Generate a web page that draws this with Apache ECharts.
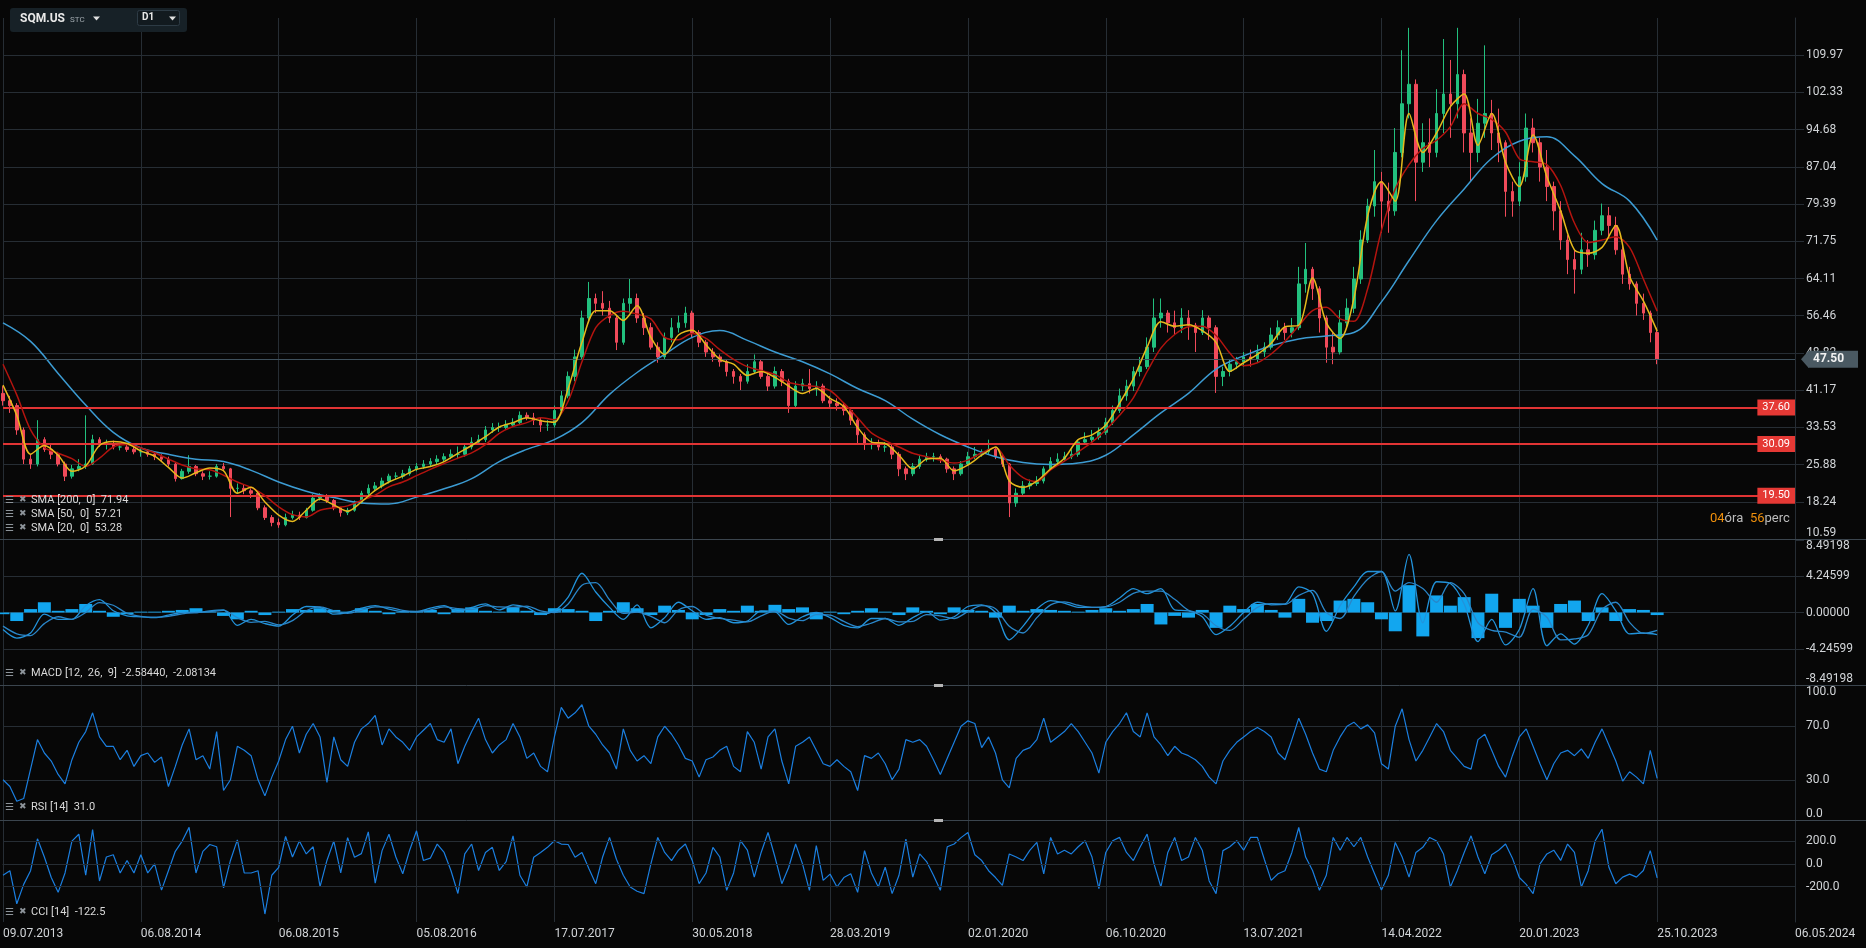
<!DOCTYPE html>
<html><head><meta charset="utf-8">
<script src="https://cdn.jsdelivr.net/npm/echarts@6/dist/echarts.min.js"></script>
<style>html,body{margin:0;padding:0;background:#070707;}#c{width:1866px;height:948px;}</style>
</head><body><div id="c"></div>
<script>
// ---------- data ----------
const dateLabels = ['09.07.2013','06.08.2014','06.08.2015','05.08.2016','17.07.2017','30.05.2018','28.03.2019','02.01.2020','06.10.2020','13.07.2021','14.04.2022','20.01.2023','25.10.2023','06.05.2024'];

const opens = [40.5,39,38,33,27,26,31,29,28,26,
23.5,25,25.5,26,31,30,30,29.5,29.5,29,
28.5,28.5,28,27.5,27,26,23,24.5,25.5,24,
23.5,23.5,25.5,25,21,21,20.5,20,17,15,
14,13.5,15,15.5,15,16.5,19,19.5,18.5,17,
16,16.5,18,20,21,21.5,22.5,23.5,23.5,24,
25,25.5,26,26.5,27,27.5,28,28,29.5,30.5,
31,33,33.5,33.5,34,34.5,36,35.5,35,34,
34,37,40,44,48,56,60,59,58,56,
51,59,60,56,54,50,48,52,54,55,
57,53,51,49,48,47,45,44,43,45,
47,44,42,45,43,38,42,42.5,41.5,42,
39,38.5,38,37,35,32,30,30,29.5,29.5,
28,25,24,25.5,27,27.5,27.5,27,25,24,
26,27.5,28,28.5,29,27.5,26,18,20,21.5,
22,22.5,25,26.5,27,27.5,28,30.5,31,31.5,
32.5,34.5,37,40,42,45,46,50,56,57,
55,54,56,54.5,53,56,54,44,45,46.5,
47,48,47.5,49,50,52.5,54,53,54,63,
66,62,56,50,49,55,58,64,72,79,
84,80,78,90,100,104,88,92,90,98,
102,100,106,94,90,96,98,94,92,82,
80,85,95,92,87,83,78,72,68,66,
70,69,74,77,75,70,65,63,59,57,
53];
const closes = [39,38,33,27,26,31,29,28,26,23.5,
25,25.5,26,31,30,30,29.5,29.5,29,28.5,
28.5,28,27.5,27,26,23,24.5,25.5,24,23.5,
23.5,25.5,25,21,21,20.5,20,17,15,14,
13.5,15,15.5,15,16.5,19,19.5,18.5,17,16,
16.5,18,20,21,21.5,22.5,23.5,23.5,24,25,
25.5,26,26.5,27,27.5,28,28,29.5,30.5,31,
33,33.5,33.5,34,34.5,36,35.5,35,34,34,
37,40,44,48,56,60,59,58,56,51,
59,60,56,54,50,48,52,54,55,57,
53,51,49,48,47,45,44,43,45,47,
44,42,45,43,38,42,42.5,41.5,42,39,
38.5,38,37,35,32,30,30,29.5,29.5,28,
25,24,25.5,27,27.5,27.5,27,25,24,26,
27.5,28,28.5,29,27.5,26,18,20,21.5,22,
22.5,25,26.5,27,27.5,28,30.5,31,31.5,32.5,
34.5,37,40,42,45,46,50,56,57,55,
54,56,54.5,53,56,54,44,45,46.5,47,
48,47.5,49,50,52.5,54,53,54,63,66,
62,56,50,49,55,58,64,72,79,84,
80,78,90,100,104,88,92,90,98,102,
100,106,94,90,96,98,94,92,82,80,
85,95,92,87,83,78,72,68,66,70,
69,74,77,75,70,65,63,59,57,53,
47.5];
const lows = [38,36.5,32,26,25,25.5,28.5,27,25.5,22.5,
23,24.5,25,25.8,29.5,29,29,28.8,28.5,28,
27.5,27.5,26.8,26.5,25.5,22.4,22.8,24,23.5,22.7,
22.8,23.2,24.5,15.1,20,19.8,19,16.5,14.5,13.2,
12.9,13.2,14.6,14.5,14.8,16.2,18.5,18,16.5,15.2,
15.5,16.2,17.8,19.5,20.5,21,22,22.8,23,23.6,
24.5,25,25.5,26,26.4,27,27,27.5,29,30,
30.5,32.4,32.6,33,33.6,34,35,34,32.6,32.8,
33.5,36.5,39.5,43,47.5,55,57,56.5,55,49.4,
50.5,57,55,52.5,49.5,46.8,47.5,51,53,54,
52,50,48,47,46,44,42.5,41.2,42.5,44.5,
43.5,41,41.5,42,36.5,37.5,41,40.5,40,38.5,
37.5,37,36,34,30,28.9,29,28.8,28.5,27,
23.5,22.7,23.5,25,26.5,26.5,26.2,24.2,22.7,23.6,
25.8,27,27.5,28,27,25.4,15.1,17.2,19.5,20.8,
21.5,22,24.8,26,26.6,27,27.5,30,30.5,31,
32,34,36.5,39,41,44,45.5,49,54,53,
52.5,52.9,51.5,49,52.5,51.5,40.6,42,44,45.5,
46,46,46.8,48,49.5,51.5,51.5,52,53.5,61.2,
59.7,53,46.8,46.5,48.5,54,57,63,71.4,76.8,
73.5,73.5,77,89,97,80,86,87,89,94,
93,97,90,84,88,93,90.5,88,76.8,76.8,
79,84,90,84,80,74,70,65,61,65,
66.5,68,73,72.5,69,63,61.8,56.5,55.6,51,
46.5];
const highs = [42,40,38.5,33.5,28,35,31.5,30,28.5,26.5,
25.8,27,36,32,31.5,31,30.8,30.2,30,29.5,
29.2,29,28.5,28,27.5,26.2,25,27.8,25.8,24.5,
24.5,26,26.2,25.2,22,21.8,21,20.2,17.5,15.5,
14.8,15.8,16.4,16.2,17,19.8,20,19.8,18.8,17.2,
17,18.5,20.5,21.8,22.3,23.2,24,24.3,24.8,25.6,
26.2,26.8,27.2,27.8,28.2,29,29.6,30.2,31.5,32,
33.8,34.4,34.5,35,35.4,36.8,36.6,36.5,35.5,35,
38,41,45,49.5,57.5,63.4,61,61.5,59.5,56.5,
60,64,61,57,55,51,53,56,56.5,58.3,
57.5,53.5,51.5,49.8,48.5,47.4,45.5,44.5,46.5,48.5,
47.4,44.5,46,45.5,43.5,43,43.5,45.5,43,42.5,
40,39.5,38.5,37.5,35.5,32.5,31.3,31,30.5,30,
28.5,25.5,26.2,27.8,28.3,28.3,28,27.3,25.5,26.6,
28.5,29.5,29,31,29.5,28,26.2,21,22.5,22.8,
23.5,25.5,27.4,28.2,28.5,29,31,32.5,33,33.5,
35.5,38,41.5,43.3,46,48,52,60,60,57.6,
57.5,58,57.6,55,57.6,56.5,54.5,46,47.4,48,
49,49.5,50.5,51,54,55.5,55,56,66.5,71.4,
66.5,62.5,56.5,53,57.6,60,66.5,74,80.5,90.5,
86,83.8,95,111,115.6,105,96,97,103,113.3,
109,115.6,107,97,101,112,100.8,99,92.5,84,
88,98,97,93,90.5,84,80,73,70,73.5,
72,76,79.5,78.8,76.8,71,66.5,63.5,61,57.5,
54];

// moving averages: sma20 / sma50 sampled every 2nd bar, sma200 every 4th bar
const sma20 = [42.2,36,28,29.8,27.8,24.5,25.6,29.8,30.6,30.2,
28.7,27.6,25.3,23.1,24.2,25.2,24.6,20,21.2,18.2,
15.5,14.2,16.5,18.8,17.6,16.3,18.2,20.6,22.3,23.5,
24.9,25.5,26.5,28.2,29.8,31.6,33.6,34.5,35.5,34.9,
34.6,41.5,51,57.5,57.5,55.5,58.5,52,48.5,52.5,
53.5,50.5,47.5,46.5,44.2,45,43.8,42,40.5,41.5,
39.5,37.8,33.5,30.5,30.2,27.8,25,27,27.2,24.6,
25.8,27.8,29.5,22.5,21.2,22.5,25,27.2,31,32,
34,38.5,43.5,50,55.2,54.3,54.6,53.4,51,45,
46.8,48.5,50.8,54.2,54.5,64.2,55,51.8,60,77,
84,80,98,90,94,99.4,102,91.5,98,88,
83,93.6,85,78,70,69.3,70.5,75,64.5,59.5,
53.3];
const sma50 = [46.5,40.2,33,29.4,28.2,27.1,25.5,27.2,29.5,30,
29.3,28.3,27,25.8,25,24.8,23.7,22.3,21.2,19.5,
17.2,15.6,15.1,16.5,17,17.4,18.5,19.6,21.3,22.3,
23.6,24.9,26.1,27.2,28.3,30,32.3,33.7,34.5,35.5,
35.1,38.9,47,54,56.5,57.4,56.8,55.8,52,51.5,
52.8,51.8,49.5,47.5,46,45.2,44.4,42.8,42.2,41.9,
41.1,38.5,35.5,32.4,30.8,29.5,28.2,27.5,26.8,26.2,
26.8,28.3,29.4,25.8,23.2,22.4,24.8,26.6,28.5,30.5,
33,36,39.6,45,49.8,52.6,54.2,54.3,52.4,48.8,
46.2,46.8,48.6,51.2,54.4,57.5,58.2,55.8,55.3,62,
74,82.5,87.5,90.8,92.5,95.3,100,98,96.8,94.2,
88.7,88.1,87.5,83.2,75.5,71.5,72,72.7,70.5,64,
57.4];
const sma200 = [55,51.2,44.6,38.1,32.5,29.3,28,27,26.5,24.7,
22.3,20.4,19.1,18,17.8,19.2,20.9,23,26.5,29,
31,34.5,40.3,44.8,48.5,52,53.4,51.4,49,47,
44.5,41.5,39,35.2,32,29.5,27.5,26.3,25.9,26.2,
27.8,32,36.5,40.5,45.5,48.2,50.3,51.7,52.3,53,
59.3,67.8,76,82.5,88.8,92.3,93.2,89.3,83.6,80,
72];

// MACD (sampled every 2nd bar)
const macdLine = [-2.0,-3.0,-2.4,-0.2,-0.8,-0.8,0.8,1.5,0.2,-0.4,
-0.5,-0.6,-0.3,0,0,0.2,0.3,-1.5,-0.8,-1.3,
-1.6,-0.3,0.7,0.6,-0.2,0,0.5,0.8,0.4,0.1,
0.1,0.5,0.8,0.1,0.6,1.0,0.3,0.9,0.6,-0.2,
0.2,1.8,4.6,2.4,0.6,-0.8,0.9,-1.8,-0.6,1.2,
0.2,-0.8,-0.6,-1.2,-1.0,0.2,0.1,-1.4,-0.5,0.0,
-0.6,-1.5,-1.8,-0.7,-0.7,-1.5,-0.6,0.1,-0.9,-0.5,
0.7,0.9,0.0,-3.2,-1.6,0.4,1.4,1.1,0.6,0.6,
0.7,1.7,2.8,2.2,2.8,0.3,0.2,-0.5,-2.6,-1.6,
0.0,1.2,0.9,1.0,3.0,2.2,-2.2,0.8,3.0,4.8,
4.8,0.2,6.8,-1.2,3.6,3.4,1.0,-3.4,-0.8,-3.8,
-2.0,2.8,-3.9,-2.5,-3.7,-1.5,2.2,0.2,-2.5,-2.4,
-2.58];
const signalLine = [-1.6,-2.5,-2.7,-1.3,-0.5,-0.8,0,1.15,0.85,-0.1,
-0.45,-0.55,-0.45,-0.15,0,0.1,0.25,-0.6,-1.15,-1.05,
-1.45,-0.95,0.2,0.65,0.2,-0.1,0.25,0.65,0.6,0.25,
0.1,0.3,0.65,0.45,0.35,0.8,0.65,0.6,0.75,0.2,
0,1.0,3.2,3.5,1.5,-0.1,0.05,-0.45,-1.2,0.3,
0.7,-0.3,-0.7,-0.9,-1.1,-0.4,0.15,-0.65,-0.95,-0.25,
-0.3,-1.05,-1.65,-1.25,-0.7,-1.1,-1.05,-0.25,-0.4,-0.7,
0.1,0.8,0.45,-1.6,-2.4,-0.6,0.9,1.25,0.85,0.6,
0.65,1.2,2.25,2.5,2.5,1.55,0.25,-0.15,-1.55,-2.1,
-0.8,0.6,1.05,0.95,2.0,2.6,0,-0.7,1.9,3.9,
4.8,2.5,3.5,2.8,1.2,3.5,2.2,-1.2,-2.1,-2.3,
-2.9,0.4,-0.55,-3.2,-3.1,-2.6,0.35,1.2,-1.15,-2.45,
-2.08];
const macdHist = [-0.2,-1.0,0.4,1.2,0.2,0.4,1.0,0.2,-0.5,-0.2,
0.1,0.1,0.2,0.3,0.5,0.1,-0.4,-0.8,0.2,-0.3,
0.1,0.4,0.3,0.5,0.3,0.1,0.5,0.2,-0.2,0.1,
0.2,0.3,-0.2,0.4,0.6,0.2,0.1,0.6,0.2,-0.3,
0.5,0.4,0.2,-1.0,0.2,1.2,0.5,-0.3,0.8,0.3,
-0.8,-0.3,0.4,0.2,0.8,0.2,0.9,0.4,0.6,-0.8,
0.1,-0.2,0.2,0.5,0.1,-0.3,0.6,0.2,-0.2,0.6,
0.3,0.2,-0.6,0.8,0.2,0.4,0.3,0.2,0.1,0.3,
0.5,0.2,0.4,1.0,-1.4,-0.4,-0.6,0.3,-1.8,0.8,
0.4,1.0,0.3,-0.6,1.6,-1.2,-1.0,1.4,1.6,1.2,
-0.8,-2.2,3.2,-2.8,2.0,0.8,1.8,-3.0,2.2,-1.8,
1.6,0.8,-1.8,1.0,1.4,-1.0,0.6,-1.0,0.4,0.3,
-0.3];

const rsi = [30,25,14,16,38,60,50,44,34,27,
45,58,66,80,62,55,55,45,52,40,
48,50,43,47,25,40,56,68,45,48,
38,66,22,30,55,52,48,30,18,32,
44,60,70,50,64,72,62,28,62,45,
40,58,68,72,78,56,68,62,58,52,
62,67,72,60,58,68,42,55,66,76,
60,50,56,60,72,62,46,50,40,36,
62,84,76,80,86,70,64,56,50,38,
68,52,44,48,42,62,70,64,56,46,
44,32,45,47,52,55,40,36,66,58,
38,62,68,44,27,55,58,62,52,42,
40,45,40,36,22,48,46,50,42,30,
38,60,58,60,55,45,34,46,58,70,
74,72,54,62,50,30,24,46,52,54,
60,76,58,62,66,72,66,58,50,35,
58,66,72,80,66,62,80,62,56,48,
55,50,48,45,40,32,27,44,52,58,
62,66,69,66,62,50,45,60,76,64,
50,38,36,52,62,70,73,68,71,65,
42,38,70,83,60,44,52,62,72,66,
52,46,40,38,60,64,52,40,32,48,
62,68,55,42,30,42,50,52,48,53,
46,58,68,56,44,29,36,32,27,52,
31];
const cci = [-100,-60,-350,-180,-60,220,60,-120,-250,-80,
200,260,-100,300,-150,60,80,-80,30,-80,
80,-80,0,-230,-60,110,200,320,-80,110,
170,150,-210,30,210,-80,-80,-60,-440,-100,
-30,240,60,200,87,150,-200,30,200,-80,
230,58,90,280,-170,116,260,60,-87,120,
290,29,50,174,100,-60,-260,87,174,-58,
100,145,-58,20,246,-100,-203,58,100,145,
203,174,170,58,100,-40,-174,60,232,40,
-100,-203,-240,-261,0,232,100,29,120,174,
30,-174,-80,145,60,-232,-80,203,120,-116,
100,275,60,-174,-30,174,0,-232,160,-145,
-90,-203,-120,-87,-250,116,-80,-203,-29,-261,
-100,217,-116,87,20,-100,-232,150,174,230,
275,80,29,-60,-120,-188,87,60,29,120,
188,-87,232,87,120,87,150,203,60,-217,
100,203,232,100,29,150,261,0,-203,100,
232,29,60,232,120,-150,-261,116,150,203,
120,232,232,40,-145,-87,-60,100,319,60,
-58,-232,-100,232,120,232,150,232,60,-87,
-230,-100,188,60,-116,100,145,232,200,87,
-203,-60,100,246,60,-87,80,120,174,50,
-120,-180,-261,0,87,120,30,174,100,-203,
-60,200,304,-30,-174,-116,-90,-116,-58,116,
-122.5];

const levels = [37.60, 30.09, 19.50];
const lastPrice = 47.50;
const cciLevels = [200, 0, -200];

// ---------- chart ----------
const GRID = '#262d34';
const LBL = '#d2d5d8';
const N = 261;
const cats = Array.from({length: N}, (_, i) => String(i));
const candles = opens.map((o, i) => [o, closes[i], lows[i], highs[i]]);

const gridBox = [
  {left: 3, right: 71, top: 18, height: 521},
  {left: 3, right: 71, top: 540, height: 145},
  {left: 3, right: 71, top: 686, height: 134},
  {left: 3, right: 71, top: 821, height: 101}
];

function xAx(gi) {
  return {
    type: 'category', gridIndex: gi, data: cats, boundaryGap: false,
    axisLine: {show: gi === 3, lineStyle: {color: '#2e363d'}},
    axisTick: {show: false},
    axisLabel: {
      show: gi === 3, interval: (idx) => idx % 20 === 0,
      formatter: (v) => { const i = +v; return i % 20 === 0 ? (dateLabels[i / 20] || '') : ''; },
      color: LBL, fontSize: 12, fontFamily: 'Roboto', align: 'left', margin: 6
    },
    splitLine: {show: true, interval: (idx) => idx % 20 === 0, lineStyle: {color: GRID, width: 1}}
  };
}
const yBase = {
  type: 'value', position: 'right', scale: false,
  axisLine: {show: true, lineStyle: {color: GRID}},
  axisTick: {show: true, length: 9, lineStyle: {color: GRID}},
  splitLine: {show: true, lineStyle: {color: GRID}}
};
const lblBase = {color: LBL, fontSize: 12, fontFamily: 'Roboto', margin: 11};

const rsiColors = Array.from({length: 11}, (_, i) => (i === 3 || i === 7) ? GRID : 'rgba(0,0,0,0)');

const legendFont = '"Liberation Sans Narrow", Roboto, sans-serif';
function legendRow(y, txt) {
  return [
    {type: 'text', left: 5, top: y - 7, z: 50, style: {text: '☰', fill: '#8d949a', font: '10px "DejaVu Sans"'}},
    {type: 'text', left: 19, top: y - 7, z: 50, style: {text: '✖', fill: '#8d949a', font: '9px "DejaVu Sans"'}},
    {type: 'text', left: 31, top: y - 7, z: 50, style: {text: txt, fill: '#dadada', font: '11px ' + legendFont}}
  ];
}

const chart = echarts.init(document.getElementById('c'), null, {renderer: 'canvas'});
const option = {
  backgroundColor: '#070707',
  animation: false,
  textStyle: {fontFamily: 'Roboto'},
  grid: gridBox,
  xAxis: [xAx(0), xAx(1), xAx(2), xAx(3)],
  yAxis: [
    Object.assign({}, yBase, {gridIndex: 0, min: 10.5942, max: 117.61748, interval: 7.64452,
      axisLabel: Object.assign({}, lblBase, {formatter: (v) => v.toFixed(2), showMaxLabel: false, verticalAlignMinLabel: 'bottom'}),
      splitLine: {show: true, showMaxLine: false, lineStyle: {color: GRID}}}),
    Object.assign({}, yBase, {gridIndex: 1, min: -8.49198, max: 8.49198, interval: 4.24599,
      axisLabel: Object.assign({}, lblBase, {formatter: (v) => (Math.abs(v) < 1e-9 ? 0 : v).toFixed(5), verticalAlignMaxLabel: 'top', verticalAlignMinLabel: 'bottom'}),
      splitLine: {show: true, showMaxLine: false, showMinLine: false, lineStyle: {color: GRID}}}),
    Object.assign({}, yBase, {gridIndex: 2, min: 0, max: 100, interval: 10,
      axisTick: {show: false},
      axisLabel: Object.assign({}, lblBase, {formatter: (v) => ([0, 30, 70, 100].indexOf(v) >= 0 ? v.toFixed(1) : ''), verticalAlignMaxLabel: 'top', verticalAlignMinLabel: 'bottom'}),
      splitLine: {show: true, lineStyle: {color: rsiColors}}}),
    Object.assign({}, yBase, {gridIndex: 3, min: -510, max: 376,
      axisTick: {show: false}, axisLabel: {show: false}, splitLine: {show: false}})
  ],
  series: [
    {
      type: 'candlestick', name: 'SQM.US', xAxisIndex: 0, yAxisIndex: 0, data: candles, barWidth: 3, z: 3,
      itemStyle: {color: '#22c07e', color0: '#f04a5a', borderColor: '#22c07e', borderColor0: '#f04a5a', borderWidth: 1},
      markLine: {
        silent: true, symbol: ['none', 'none'], animation: false,
        data: levels.map(v => ({
          yAxis: v,
          lineStyle: {color: '#e13434', width: 2.2, type: 'solid'},
          label: {show: true, position: 'insideEnd', distance: 0, formatter: v.toFixed(2),
            backgroundColor: '#e53935', color: '#ffffff', fontSize: 11, fontFamily: 'Roboto', padding: [3, 5, 2, 5]}
        })).concat([{
          yAxis: lastPrice,
          lineStyle: {color: '#3e505c', width: 1, type: 'solid'},
          label: {show: true, position: 'end', distance: 13, formatter: lastPrice.toFixed(2),
            backgroundColor: '#4a5962', color: '#f2f2f2', fontSize: 12, fontWeight: 'bold', fontFamily: 'Roboto', padding: [3, 14, 2, 5]}
        }])
      }
    },
    {type: 'line', name: 'SMA200', xAxisIndex: 0, yAxisIndex: 0, data: sma200.map((v, j) => [4 * j, v]),
      showSymbol: false, smooth: 0.4, z: 4, lineStyle: {color: '#3c9bd2', width: 1.5}, itemStyle: {color: '#3c9bd2'}},
    {type: 'line', name: 'SMA50', xAxisIndex: 0, yAxisIndex: 0, data: sma50.map((v, k) => [2 * k, v]),
      showSymbol: false, smooth: 0.3, z: 5, lineStyle: {color: '#b3140f', width: 1.5}, itemStyle: {color: '#b3140f'}},
    {type: 'line', name: 'SMA20', xAxisIndex: 0, yAxisIndex: 0, data: sma20.map((v, k) => [2 * k, v]),
      showSymbol: false, smooth: 0.3, z: 6, lineStyle: {color: '#e6b91c', width: 1.5}, itemStyle: {color: '#e6b91c'}},

    {type: 'bar', name: 'hist', xAxisIndex: 1, yAxisIndex: 1, data: macdHist.map((v, k) => [2 * k, v]),
      barWidth: 13, itemStyle: {color: '#12a6ef'}, z: 2},
    {type: 'line', name: 'MACD', xAxisIndex: 1, yAxisIndex: 1, data: macdLine.map((v, k) => [2 * k, v]),
      showSymbol: false, smooth: 0.3, z: 3, lineStyle: {color: '#2293db', width: 1.3}},
    {type: 'line', name: 'Signal', xAxisIndex: 1, yAxisIndex: 1, data: signalLine.map((v, k) => [2 * k, v]),
      showSymbol: false, smooth: 0.3, z: 3, lineStyle: {color: '#2a86c8', width: 1.3}},

    {type: 'line', name: 'RSI', xAxisIndex: 2, yAxisIndex: 2, data: rsi,
      showSymbol: false, z: 3, lineStyle: {color: '#1b7fe0', width: 1.2}},

    {type: 'line', name: 'CCI', xAxisIndex: 3, yAxisIndex: 3, data: cci,
      showSymbol: false, z: 3, lineStyle: {color: '#1b7fe0', width: 1.2},
      markLine: {
        silent: true, symbol: ['none', 'none'], animation: false,
        data: cciLevels.map(v => ({
          yAxis: v, lineStyle: {color: GRID, width: 1, type: 'solid'},
          label: {show: true, position: 'end', distance: 11, formatter: v.toFixed(1), color: LBL, fontSize: 12, fontFamily: 'Roboto'}
        }))
      }}
  ],
  graphic: [].concat(
    [
      {type: 'line', z: 40, shape: {x1: 0, y1: 539.5, x2: 1866, y2: 539.5}, style: {stroke: '#3b454e', lineWidth: 1}},
      {type: 'line', z: 40, shape: {x1: 0, y1: 685.5, x2: 1866, y2: 685.5}, style: {stroke: '#3b454e', lineWidth: 1}},
      {type: 'line', z: 40, shape: {x1: 0, y1: 820.5, x2: 1866, y2: 820.5}, style: {stroke: '#3b454e', lineWidth: 1}},
      {type: 'rect', z: 41, shape: {x: 934, y: 538, width: 9, height: 3}, style: {fill: '#b5b5b5'}},
      {type: 'rect', z: 41, shape: {x: 934, y: 684, width: 9, height: 3}, style: {fill: '#b5b5b5'}},
      {type: 'rect', z: 41, shape: {x: 934, y: 819, width: 9, height: 3}, style: {fill: '#b5b5b5'}},
      // symbol widget
      {type: 'rect', z: 60, shape: {x: 10, y: 8, width: 177, height: 24, r: 3}, style: {fill: '#172127'}},
      {type: 'text', z: 61, left: 20, top: 12.5, style: {text: 'SQM.US', fill: '#e8e8e8', font: 'bold 12px Roboto'}},
      {type: 'text', z: 61, left: 70, top: 16, style: {text: 'STC', fill: '#9ea6ac', font: '8px Roboto'}},
      {type: 'polygon', z: 61, shape: {points: [[93, 16.5], [100, 16.5], [96.5, 20.5]]}, style: {fill: '#e0e0e0'}},
      {type: 'rect', z: 61, shape: {x: 137.5, y: 10.5, width: 42, height: 15, r: 2}, style: {fill: '#121a1f', stroke: '#2d3b45', lineWidth: 1}},
      {type: 'text', z: 62, left: 142, top: 12.5, style: {text: 'D1', fill: '#e8e8e8', font: 'bold 10px Roboto'}},
      {type: 'polygon', z: 62, shape: {points: [[169, 16.5], [176, 16.5], [172.5, 20.5]]}, style: {fill: '#e0e0e0'}},
      // countdown
      {type: 'text', z: 50, left: 1710, top: 512, style: {
        text: '{o|04}{g|óra}  {o|56}{g|perc}',
        rich: {o: {fill: '#f0900c', font: '13px Roboto'}, g: {fill: '#bcbcbc', font: '13px Roboto'}}
      }}
    ],
    legendRow(502, 'SMA [200,  0]  71.94'),
    legendRow(516, 'SMA [50,  0]  57.21'),
    legendRow(530, 'SMA [20,  0]  53.28'),
    legendRow(675, 'MACD [12,  26,  9]  -2.58440,  -2.08134'),
    legendRow(809, 'RSI [14]  31.0'),
    legendRow(914, 'CCI [14]  -122.5')
  )
};
chart.setOption(option);

// arrow for the last-price tag, positioned through the axis scale
const py = chart.convertToPixel({gridIndex: 0}, [0, lastPrice])[1];
const gx = chart.convertToPixel({gridIndex: 0}, [N - 1, lastPrice])[0];
chart.setOption({graphic: option.graphic.concat([
  {type: 'polygon', z: 45, shape: {points: [[gx + 6, py], [gx + 13.5, py - 8.5], [gx + 13.5, py + 8.5]]}, style: {fill: '#4a5962'}}
])});
</script>
</body></html>
